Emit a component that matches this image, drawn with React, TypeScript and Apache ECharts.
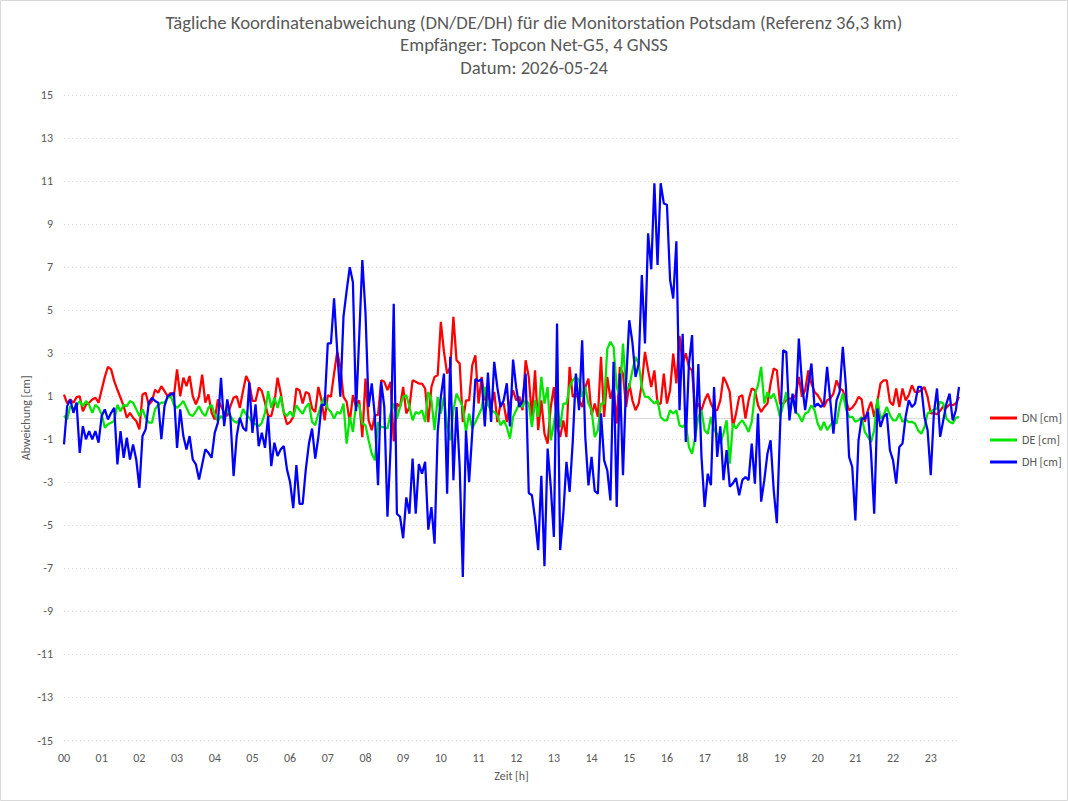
import React, { useEffect, useRef } from "react";
import * as echarts from "echarts";

// Hour labels on the time axis; each hour holds twelve 5-minute epochs.
const hourLabels = [
  "00", "01", "02", "03", "04", "05", "06", "07", "08", "09", "10", "11",
  "12", "13", "14", "15", "16", "17", "18", "19", "20", "21", "22", "23",
];
const minuteLabels = ["00", "05", "10", "15", "20", "25", "30", "35", "40", "45", "50", "55"];

// Y-axis tick values (odd centimetres)
const yMin = -15;
const yMax = 15;
const yStep = 2;

// North deviation [cm], one row per hour
const dn = [
  1.08, 0.67, 0.85, 0.7, 0.96, 1.0, 0.3, 0.6, 0.7, 0.85, 0.93, 0.7,
  1.3, 1.9, 2.37, 2.25, 1.7, 1.3, 0.93, 0.54, 0.0, 0.23, 0.0, -0.15,
  -0.54, 1.08, 1.16, 0.6, 0.78, 1.3, 1.16, 1.47, 1.24, 1.0, 1.16, 1.0,
  2.25, 1.0, 1.86, 1.47, 1.94, 1.0, 0.62, 1.0, 2.0, 0.7, 1.08, 0.23,
  -0.08, 0.85, 0.54, 0.23, 0.08, 0.54, 0.93, 1.0, 0.46, 1.24, 1.94, 1.63,
  0.78, 0.78, 1.4, 1.24, 0.7, 0.08, 0.08, 0.7, 1.86, 1.16, 0.23, -0.3,
  -0.2, 0.04, 1.36, 1.28, 0.66, 1.2, 1.12, 0.43, 0.27, 1.43, 0.81, -0.12,
  1.05, 0.97, 2.05, 3.06, 2.36, 0.97, 0.74, -0.2, 1.05, 0.5, 0.81, -0.9,
  1.82, -0.12, -0.58, 0.12, 0.12, 1.74, 1.67, 1.28, 1.67, -1.1, 0.66, 0.5,
  1.43, 0.2, 0.5, 1.74, 1.67, 1.59, 1.59, 1.36, -0.2, 1.43, 1.9, 1.98,
  4.46, 3.06, 2.05, 2.36, 4.69, 2.67, 2.52, -0.2, 0.81, 0.81, 2.44, 2.9,
  0.66, 1.9, 0.81, 1.12, 0.5, 1.2, -0.2, 0.66, 0.66, -0.2, 0.66, 1.28,
  0.81, 0.97, 0.35, 2.67, 1.9, 0.04, 2.2, -0.58, 0.81, -0.74, -1.2, 0.5,
  1.43, -0.43, -0.9, -0.12, -0.9, 2.36, 0.97, 1.12, 0.81, 0.5, 1.43, 1.82,
  0.12, 0.66, 0.04, 2.83, 0.04, 1.9, 0.89, 1.43, -0.27, 2.36, 2.05, 0.5,
  1.6, 0.81, 0.35, 0.66, 1.6, 3.06, 2.2, 1.43, 2.2, 0.66, 0.66, 2.05,
  0.66, 1.28, 2.98, 1.6, 3.8, 2.5, 3.0, 2.36, 2.2, 0.35, 0.66, 0.35,
  0.81, 1.12, 0.66, 0.35, 0.35, 0.81, 1.9, 1.6, 1.2, -0.43, 0.2, 0.97,
  1.05, -0.04, 0.81, 1.36, 1.28, 0.58, 0.27, 0.5, 0.66, 1.59, 2.29, 2.2,
  0.66, 0.66, 0.81, 0.89, 0.89, 1.05, 1.9, 0.97, 1.28, 2.2, 1.59, 1.2,
  1.05, 0.81, 0.5, 0.81, 0.89, 1.12, 1.74, 1.36, 1.28, 0.81, 0.35, 0.47,
  0.66, 0.97, 0.85, -0.19, 0.35, 0.74, 0.04, 0.74, 1.59, 1.74, 1.74, 0.74,
  0.58, 1.36, 0.5, 1.36, 0.81, 1.05, 1.51, 1.2, 1.2, 1.28, 1.43, 0.97,
  0.2, 0.22, 0.16, 0.32, 0.54, 0.47, 0.62, 0.58, 0.66, 0.97,
];

// East deviation [cm]
const de = [
  0.1, -0.08, 0.54, 0.4, 0.54, 0.78, 0.54, 0.78, 0.6, 0.23, 0.6, 0.46,
  0.15, -0.46, -0.3, -0.23, -0.15, 0.6, 0.3, 0.6, 0.54, 0.78, 0.7, 0.4,
  0.08, 0.4, 0.0, -0.23, -0.23, 0.4, 0.6, 0.7, 0.7, 0.93, 1.0, 0.6,
  0.46, 0.6, 0.78, 0.46, 0.15, 0.08, 0.3, 0.54, 0.23, 0.08, 0.46, 0.6,
  0.15, -0.15, 0.08, -0.08, 0.4, 0.08, -0.15, -0.23, -0.08, 0.4, 0.15, 0.0,
  -0.23, -0.3, -0.39, -0.23, 0.23, 1.24, 0.46, 0.93, 0.46, 1.0, 0.23, 0.08,
  0.3, 0.04, 0.58, 0.35, 0.19, 0.5, 0.66, -0.2, -0.35, 0.19, 0.66, 0.97,
  0.43, 0.27, -0.04, 0.27, 0.19, 0.66, -1.2, 0.04, -0.66, 0.66, 0.58, -0.27,
  -0.35, -1.05, -1.67, -1.98, -0.2, -0.43, -0.43, -0.5, 0.19, 0.66, -0.04, 0.5,
  0.97, 1.05, 0.5, -0.12, 0.27, 0.19, 0.35, -0.2, 1.2, 0.81, -0.58, 0.97,
  0.19, 0.97, -0.43, -1.05, 0.35, 1.12, 0.81, 0.5, -0.66, 0.19, -0.5, -0.2,
  0.12, 0.43, 1.43, 0.58, 0.35, 0.27, 0.12, -0.35, -0.12, -0.43, -0.97, 0.04,
  0.35, 0.66, 0.5, 0.81, 0.66, -0.43, 0.81, 0.04, 1.9, 0.66, 1.43, -1.05,
  -0.27, 0.66, -0.43, 0.66, 0.66, 1.43, 1.74, 1.9, 1.74, 0.97, 1.43, 0.66,
  0.35, -0.9, -0.58, 0.66, 0.66, 3.2, 3.53, 3.29, 1.43, 0.97, 3.45, 1.28,
  1.43, 2.2, 2.83, 2.52, 1.43, 0.97, 0.97, 0.81, 0.66, 0.81, 0.04, -0.12,
  -0.12, 0.35, 0.2, 0.35, -0.35, -0.43, -0.27, -1.36, -1.67, -0.9, 0.04, 0.35,
  -0.58, -0.74, 0.04, -0.58, -0.74, -1.2, -0.74, -0.12, -2.13, -0.27, -0.5, -0.27,
  -0.12, -0.35, -0.66, -0.19, 1.12, 1.51, 2.36, 0.66, 1.2, 0.89, 1.12, 0.66,
  0.04, 0.58, 1.2, 0.27, 0.97, 0.27, 0.12, -0.19, 0.2, 0.27, 0.58, 0.35,
  -0.27, -0.58, -0.19, -0.58, -0.35, -0.19, -0.27, 0.58, 1.12, 0.43, 0.04, 0.04,
  -0.19, -0.12, 0.04, -0.66, -0.89, -1.12, -0.58, 0.89, -0.04, 0.12, 0.5, 0.12,
  -0.12, -0.12, 0.2, -0.19, -0.08, -0.2, -0.19, -0.27, -0.6, -0.74, -0.43, 0.2,
  0.29, 0.38, 0.43, 0.74, 0.66, -0.04, -0.19, -0.27, 0.0, 0.04,
];

// Height deviation [cm]
const dh = [
  -1.24, 0.54, 0.85, 0.23, 0.7, -1.63, -0.39, -1.0, -0.62, -1.0, -0.62, -1.16,
  0.08, 0.39, -0.08, 0.23, 0.46, -2.17, -0.62, -1.86, -0.93, -1.94, -1.24, -1.94,
  -3.26, -0.85, -0.54, 0.7, 0.93, 0.78, 0.7, -1.0, 0.54, 1.0, 1.08, 1.16,
  -1.4, 0.39, -0.85, -1.47, -0.85, -1.94, -2.17, -2.87, -2.17, -1.47, -1.63, -1.86,
  -0.7, -0.23, 1.86, -0.39, 0.85, 0.0, -2.71, -0.85, 0.0, -0.46, -0.62, 1.63,
  -0.7, 0.62, -1.32, -0.7, -1.4, 0.08, -2.25, -1.16, -1.78, -1.47, -1.32, -2.4,
  -3.0, -4.2, -2.2, -4.0, -4.0, -2.4, -1.2, -0.5, -1.9, -0.9, 0.6, 0.6,
  3.46, 3.46, 5.55, 3.1, 0.98, 4.7, 5.9, 7.0, 6.3, 0.3, 3.76, 7.33,
  4.9, 0.5, 1.6, 0.04, -3.14, 1.67, 0.5, -4.6, -1.4, 5.3, -4.46, -4.6,
  -5.6, -3.7, -4.46, -1.9, -4.46, -2.15, -2.6, -2.05, -5.2, -4.15, -5.85, -0.66,
  0.97, 2.05, -3.53, 2.83, -2.9, 0.5, -2.3, -7.4, -0.6, -3.0, -0.7, 1.8,
  1.7, 1.8, -0.4, 2.1, -0.2, 2.6, 1.4, 0.5, 0.8, 1.6, -0.4, 2.7,
  1.4, 0.5, 0.8, 2.05, -3.5, -3.6, -4.7, -6.15, -2.7, -6.9, -1.43, -3.2,
  -5.54, 4.38, -6.15, -4.46, -2.05, -3.45, -1.12, 2.05, 0.35, 3.6, -0.9, -3.14,
  -1.82, -3.4, -3.53, 0.2, -1.98, -2.45, -3.84, 2.6, -4.15, 2.05, -2.67, 1.67,
  4.53, 3.5, 1.9, 2.5, 6.63, 3.45, 8.57, 6.9, 10.9, 7.1, 10.9, 9.96,
  9.9, 6.4, 5.54, 8.2, 0.35, 3.9, -1.12, 2.5, 3.84, -1.12, 2.5, -1.82,
  -4.15, -2.6, -3.14, 1.43, -1.82, -0.4, -2.9, -1.5, -3.2, -3.05, -2.8, -3.6,
  -2.9, -2.75, -2.9, -1.2, -3.06, 0.2, -3.9, -2.9, -1.67, -1.05, -3.37, -4.9,
  -0.58, 3.14, 3.06, -0.12, 1.12, 0.2, 3.68, 1.59, 0.35, 1.51, 2.52, 0.5,
  0.66, 0.5, 0.66, 2.36, 0.81, -0.74, 0.81, 1.2, 3.3, 1.43, -1.82, -2.29,
  -4.77, -1.05, -0.04, -0.04, 0.27, -1.67, -4.46, 0.43, -0.43, 0.04, 0.2, -1.51,
  -1.98, -3.06, -1.36, -1.2, 0.04, 0.81, 0.5, 0.66, 1.43, 1.43, 0.04, -0.58,
  -2.67, 0.2, 1.36, -0.89, -0.12, 0.66, 1.12, -0.12, 0.35, 1.43,
];

const seriesNames = ["DN [cm]", "DE [cm]", "DH [cm]"];
const seriesColors = ["#ff0000", "#00e600", "#0000ff"];

const titleLines = [
  "Tägliche Koordinatenabweichung (DN/DE/DH) für die Monitorstation Potsdam (Referenz 36,3 km)",
  "Empfänger: Topcon Net-G5, 4 GNSS",
  "Datum: 2026-05-24",
];

const FONT = "Carlito, 'Liberation Sans Narrow', 'Open Sans', sans-serif";
const TEXT = "#595959";
const GRID = "#d9d9d9";

export default function App() {
  const ref = useRef<HTMLDivElement>(null);

  useEffect(() => {
    document.body.style.margin = "0";
    if (!ref.current) return;
    const chart = echarts.init(ref.current, undefined, { renderer: "svg" });

    const epochs = dn.map(
      (_, i) => `${hourLabels[Math.floor(i / 12)]}:${minuteLabels[i % 12]}`
    );

    chart.setOption({
      animation: false,
      backgroundColor: "#ffffff",
      textStyle: { fontFamily: FONT },
      title: {
        text: titleLines.join("\n"),
        left: "center",
        top: 6,
        textStyle: {
          fontFamily: FONT,
          fontSize: 18.7,
          fontWeight: "normal",
          color: TEXT,
          lineHeight: 22.5,
        },
      },
      graphic: [
        {
          type: "rect",
          shape: { x: 0.5, y: 0.5, width: 1067, height: 800 },
          style: { fill: "none", stroke: GRID, lineWidth: 1 },
          silent: true,
        },
      ],
      legend: {
        data: seriesNames,
        orient: "vertical",
        left: 985,
        top: 407,
        icon: "rect",
        itemWidth: 27,
        itemHeight: 3,
        itemGap: 10,
        textStyle: { fontFamily: FONT, fontSize: 12, color: TEXT },
      },
      grid: { left: 64, right: 109, top: 95, bottom: 60.5 },
      xAxis: [
        {
          type: "category",
          data: epochs,
          boundaryGap: false,
          name: "Zeit [h]",
          nameLocation: "middle",
          nameGap: 29,
          nameMoveOverlap: false,
          nameTextStyle: { fontFamily: FONT, fontSize: 12, color: TEXT },
          axisLine: { show: false, onZero: false },
          axisTick: { show: false },
          axisLabel: {
            interval: 11,
            margin: 11,
            fontFamily: FONT,
            fontSize: 12,
            color: TEXT,
            formatter: (v: string) => v.slice(0, 2),
          },
          splitLine: { show: false },
        },
        {
          // zero reference line
          type: "category",
          data: epochs,
          boundaryGap: false,
          position: "bottom",
          axisLine: { show: true, onZero: true, lineStyle: { color: GRID, width: 1 } },
          axisTick: { show: false },
          axisLabel: { show: false },
          splitLine: { show: false },
        },
      ],
      yAxis: {
        type: "value",
        min: yMin,
        max: yMax,
        interval: yStep,
        name: "Abweichung [cm]",
        nameLocation: "middle",
        nameGap: 32,
        nameMoveOverlap: false,
        nameTextStyle: { fontFamily: FONT, fontSize: 12, color: TEXT },
        axisLine: { show: false },
        axisTick: { show: false },
        axisLabel: { margin: 11, fontFamily: FONT, fontSize: 12, color: TEXT },
        splitLine: { show: true, lineStyle: { color: GRID, type: [1, 3], width: 1 } },
      },
      series: [dn, de, dh].map((values, k) => ({
        name: seriesNames[k],
        type: "line",
        xAxisIndex: 0,
        data: values,
        showSymbol: false,
        symbol: "none",
        color: seriesColors[k],
        lineStyle: { color: seriesColors[k], width: 2.25 },
        emphasis: { disabled: true },
      })),
    });

    return () => chart.dispose();
  }, []);

  return <div ref={ref} style={{ width: 1068, height: 801 }} />;
}
